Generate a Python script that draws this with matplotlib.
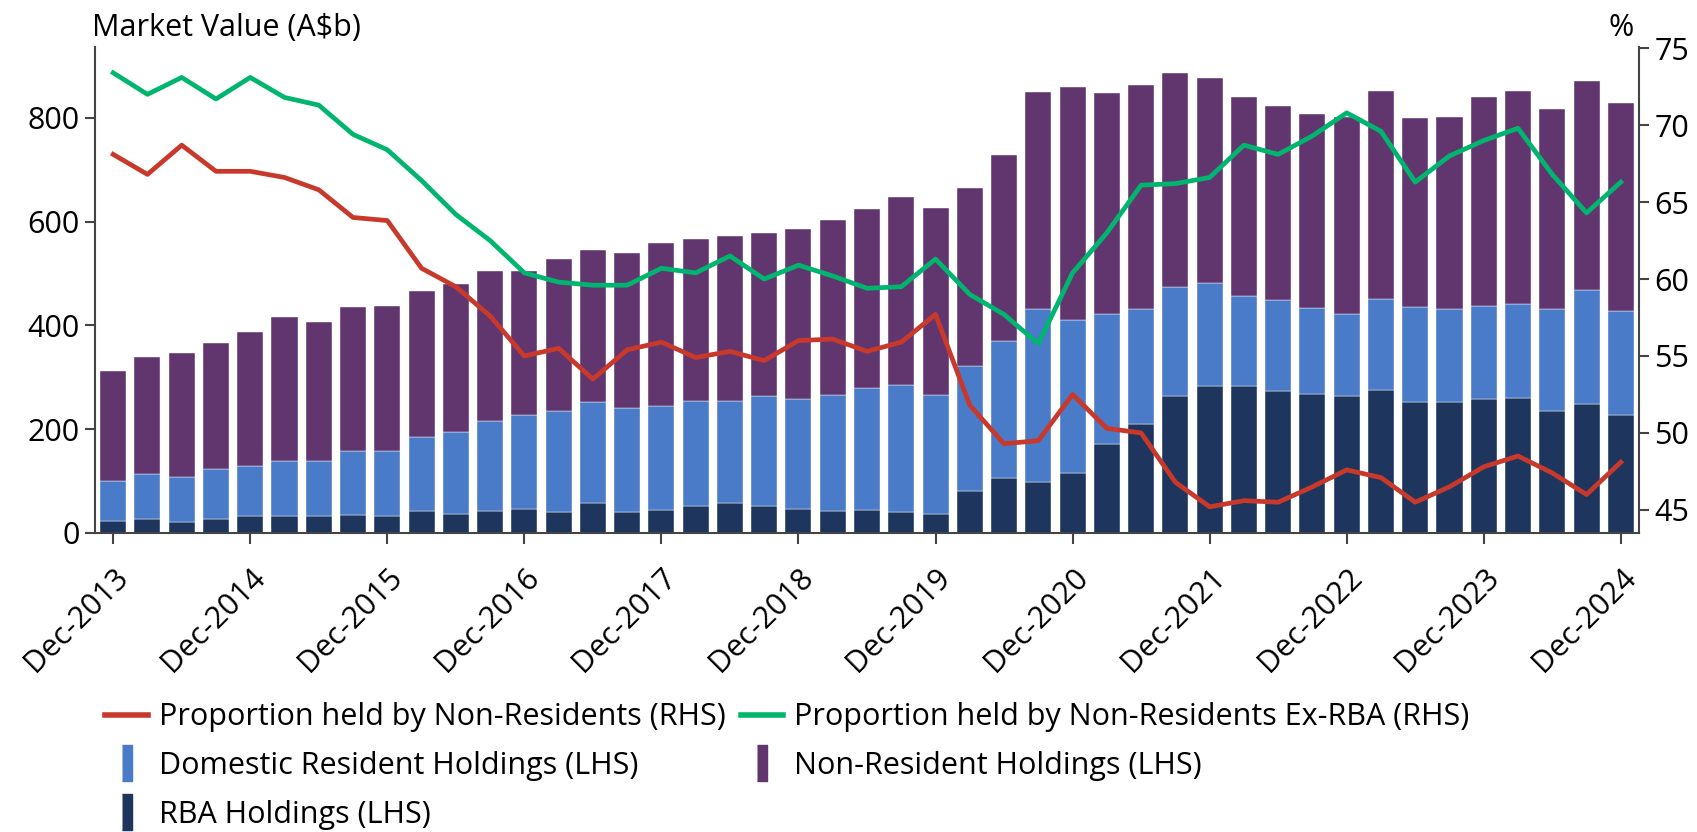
import numpy as np
import matplotlib
matplotlib.use("Agg")
import matplotlib.pyplot as plt
from matplotlib.lines import Line2D

plt.rcParams['font.family'] = ['Open Sans', 'DejaVu Sans']

# quarterly, Dec-2013 .. Dec-2024
quarters = [f"{m}-{y}" for y in range(2013, 2025) for m in ["Mar", "Jun", "Sep", "Dec"]][3:]

rba = [24, 27, 22, 27, 32, 32, 32, 35, 32, 42, 37, 42, 47, 40, 58, 40, 45, 52, 58, 52,
       47, 42, 45, 40, 37, 80, 106, 98, 116, 172, 210, 263, 284, 284, 273, 268, 263, 276,
       253, 253, 258, 261, 235, 248, 228]
domestic = [76, 86, 86, 96, 97, 106, 106, 123, 126, 143, 157, 173, 181, 195, 195, 200, 200,
            203, 197, 211, 211, 224, 234, 246, 229, 242, 264, 333, 294, 249, 221, 211, 197,
            172, 175, 166, 158, 175, 183, 178, 180, 180, 196, 221, 200]
non_resident = [213, 226, 239, 244, 259, 278, 268, 278, 280, 282, 285, 289, 276, 292, 292,
                300, 313, 311, 318, 315, 328, 338, 345, 362, 360, 343, 358, 419, 450, 427,
                432, 413, 395, 384, 374, 373, 380, 401, 363, 370, 402, 411, 386, 401, 400]

prop_nr = [68.1, 66.8, 68.7, 67.0, 67.0, 66.6, 65.8, 64.0, 63.8, 60.7, 59.5, 57.6, 55.0,
           55.5, 53.5, 55.4, 55.9, 54.9, 55.3, 54.7, 56.0, 56.1, 55.3, 55.9, 57.7, 51.8,
           49.3, 49.5, 52.5, 50.3, 50.0, 46.8, 45.2, 45.6, 45.5, 46.5, 47.6, 47.1, 45.5,
           46.5, 47.8, 48.5, 47.4, 46.0, 48.1]
prop_nr_ex_rba = [73.4, 72.0, 73.1, 71.7, 73.1, 71.8, 71.3, 69.4, 68.4, 66.4, 64.2, 62.5,
                  60.4, 59.8, 59.6, 59.6, 60.7, 60.4, 61.5, 60.0, 60.9, 60.2, 59.4, 59.5,
                  61.3, 59.0, 57.7, 55.8, 60.4, 63.0, 66.1, 66.2, 66.6, 68.7, 68.1, 69.3,
                  70.8, 69.6, 66.3, 68.0, 69.0, 69.8, 66.8, 64.3, 66.3]

c_rba = "#1E355E"
c_dom = "#4A7BC8"
c_nr = "#61366E"
c_red = "#C8392B"
c_green = "#00B56E"
fs = 22

fig = plt.figure(figsize=(16.97, 8.32), dpi=100)
ax = fig.add_axes([0.056, 0.3594, 0.9098, 0.5836])
ax2 = ax.twinx()

x = np.arange(len(quarters))
rba_a = np.array(rba)
dom_a = np.array(domestic)
w = 0.76
ax.bar(x, rba, w, color=c_rba, edgecolor="white", linewidth=0.3)
ax.bar(x, domestic, w, bottom=rba_a, color=c_dom, edgecolor="white", linewidth=0.3)
ax.bar(x, non_resident, w, bottom=rba_a + dom_a, color=c_nr, edgecolor="white", linewidth=0.3)

ax2.plot(x, prop_nr, color=c_red, lw=3.4)
ax2.plot(x, prop_nr_ex_rba, color=c_green, lw=3.4)

ax.set_xlim(-0.53, 44.53)
ax.set_ylim(0, 935.6)
ax2.set_ylim(43.5, 75.05)
ax.set_yticks([0, 200, 400, 600, 800])
ax2.set_yticks([45, 50, 55, 60, 65, 70, 75])

tick_idx = list(range(0, len(quarters), 4))
ax.set_xticks(tick_idx)
ax.set_xticklabels([quarters[i] for i in tick_idx], rotation=45, ha="right",
                   rotation_mode="anchor", fontsize=fs)

spine_c = "#444444"
for a in (ax, ax2):
    a.spines["top"].set_visible(False)
    for s in ("left", "right", "bottom"):
        a.spines[s].set_color(spine_c)
        a.spines[s].set_linewidth(1.5)
ax.spines["right"].set_visible(False)
ax2.spines["left"].set_visible(False)
ax2.spines["bottom"].set_visible(False)

ax.tick_params(axis="y", labelsize=fs, length=7, width=1.5, color=spine_c, pad=4)
ax.tick_params(axis="x", length=8, width=1.5, color=spine_c, pad=13)
ax2.tick_params(axis="y", labelsize=fs, length=7, width=1.5, color=spine_c, pad=4)

fig.text(0.054, 0.957, "Market Value (A$b)", fontsize=fs, ha="left", va="baseline")
fig.text(0.963, 0.957, "%", fontsize=fs, ha="right", va="baseline")

bar_marker = [(-0.28, -1), (0.28, -1), (0.28, 1), (-0.28, 1)]
handles = [
    Line2D([], [], color=c_red, lw=4),
    Line2D([], [], ls="none", marker=bar_marker, markersize=26, color=c_dom),
    Line2D([], [], ls="none", marker=bar_marker, markersize=26, color=c_rba),
    Line2D([], [], color=c_green, lw=4),
    Line2D([], [], ls="none", marker=bar_marker, markersize=26, color=c_nr),
]
labels = [
    "Proportion held by Non-Residents (RHS)",
    "Domestic Resident Holdings (LHS)",
    "RBA Holdings (LHS)",
    "Proportion held by Non-Residents Ex-RBA (RHS)",
    "Non-Resident Holdings (LHS)",
]
fig.legend(handles, labels, ncol=2, loc="upper left", bbox_to_anchor=(0.062, 0.156),
           frameon=False, fontsize=fs, handlelength=1.4, handletextpad=0.35,
           columnspacing=0.5, labelspacing=0.62, borderaxespad=0, borderpad=0)

fig.savefig("out.png", dpi=100)
